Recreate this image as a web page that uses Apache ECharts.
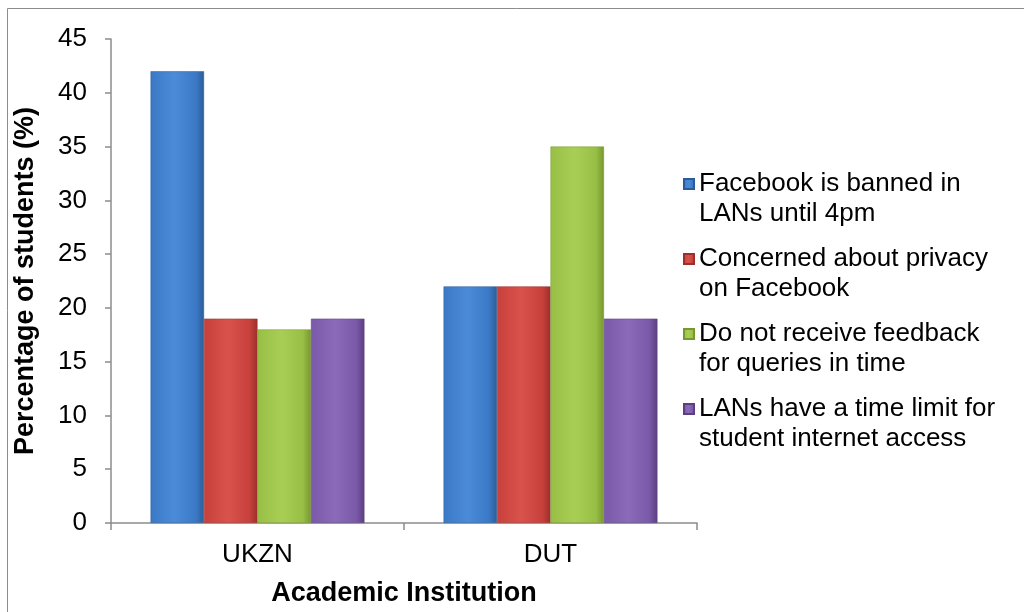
<!DOCTYPE html>
<html>
<head>
<meta charset="utf-8">
<script src="https://cdn.jsdelivr.net/npm/echarts@6/dist/echarts.min.js"></script>
<style>
  html, body { margin: 0; padding: 0; background: #fff; }
  #chart { width: 1024px; height: 612px; }
</style>
</head>
<body>
<div id="chart"></div>
<script>
// data
const categories = ['UKZN', 'DUT'];
const seriesNames = [
  'Facebook is banned in\nLANs until 4pm',
  'Concerned about privacy\non Facebook',
  'Do not receive feedback\nfor queries in time',
  'LANs have a time limit for\nstudent internet access'
];
const bannedUntil4pm = [42, 22];
const privacyConcern = [19, 22];
const noFeedback = [18, 35];
const timeLimit = [19, 19];
const yTicks = [0, 45, 5]; // min, max, step

// [dark edge, body, highlight]
const palette = [
  ['#2b5c98', '#3b79c6', '#4b8bd8'],
  ['#9b2f2b', '#c8403b', '#da524c'],
  ['#77972f', '#98bf45', '#a9ce55'],
  ['#5b3f80', '#7a59a8', '#8b6bb9']
];

function barFill (c) {
  return new echarts.graphic.LinearGradient(0, 0, 1, 0, [
    { offset: 0, color: c[1] },
    { offset: 0.45, color: c[2] },
    { offset: 0.85, color: c[1] },
    { offset: 1, color: c[0] }
  ]);
}

const font = '"Liberation Sans", Arial, sans-serif';
const axisGray = '#8c8c8c';
// square on top of a taller (empty) box, so the marker lines up with the first text line
const legendIcon = 'path://M0,0L10,0L10,10L0,10Z M0,40L0,40.01';

const myChart = echarts.init(document.getElementById('chart'));
const values = [bannedUntil4pm, privacyConcern, noFeedback, timeLimit];

const option = {
  animation: false,
  textStyle: { fontFamily: font },
  graphic: [{
    type: 'rect',
    shape: { x: 7.5, y: 8.5, width: 1030, height: 620 },
    style: { fill: 'none', stroke: '#8c8c8c', lineWidth: 1 },
    silent: true
  }],
  grid: { left: 111, right: 327, top: 39, bottom: 89 },
  legend: {
    orient: 'vertical',
    left: 683,
    top: 169,
    padding: 0,
    itemWidth: 10,
    itemHeight: 40,
    itemGap: 15,
    icon: legendIcon,
    textStyle: {
      fontFamily: font,
      fontSize: 26,
      color: '#000',
      lineHeight: 30
    },
    data: seriesNames
  },
  xAxis: {
    type: 'category',
    data: categories,
    name: 'Academic Institution',
    nameLocation: 'middle',
    nameGap: 57,
    nameTextStyle: { fontFamily: font, fontSize: 27, fontWeight: 'bold', color: '#000' },
    axisLine: { lineStyle: { color: axisGray, width: 1.5 } },
    axisTick: { show: true, length: 7, lineStyle: { color: axisGray, width: 1.5 } },
    axisLabel: { fontFamily: font, fontSize: 26, color: '#000', margin: 19 }
  },
  yAxis: {
    type: 'value',
    min: yTicks[0],
    max: yTicks[1],
    interval: yTicks[2],
    name: 'Percentage of students (%)',
    nameLocation: 'middle',
    nameGap: 72,
    nameTextStyle: { fontFamily: font, fontSize: 27, fontWeight: 'bold', color: '#000' },
    axisLine: { show: true, lineStyle: { color: axisGray, width: 1.5 } },
    axisTick: { show: true, length: 6, lineStyle: { color: axisGray, width: 1.5 } },
    axisLabel: { fontFamily: font, fontSize: 26, color: '#000', margin: 24 },
    splitLine: { show: false }
  },
  series: seriesNames.map((name, i) => ({
    name: name,
    type: 'bar',
    data: values[i],
    barGap: '0%',
    barCategoryGap: '27%',
    itemStyle: {
      color: barFill(palette[i]),
      borderColor: palette[i][0],
      borderWidth: 0.5
    }
  }))
};

myChart.setOption(option);
</script>
</body>
</html>
